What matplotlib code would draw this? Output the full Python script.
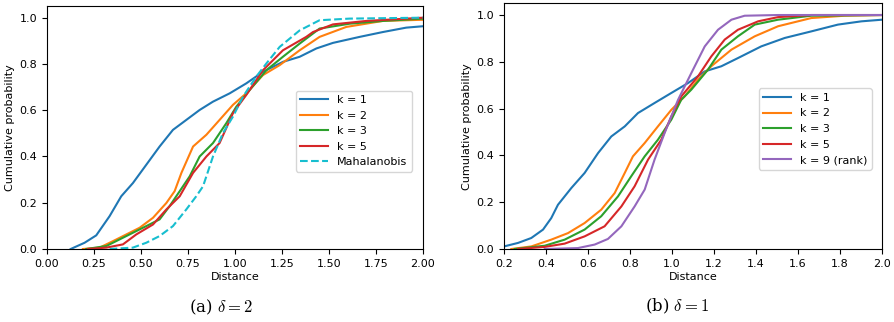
import numpy as np
import matplotlib
matplotlib.use("Agg")
import matplotlib.pyplot as plt

# values (distance, cumulative probability)
# panel (a): delta = 2
a_k1_x = [0.126, 0.20, 0.262, 0.333, 0.395, 0.457, 0.528, 0.599, 0.670, 0.741, 0.812, 0.883,
          0.972, 1.060, 1.149, 1.255, 1.344, 1.433, 1.521, 1.663, 1.787, 1.911, 2.0]
a_k1_y = [0.0, 0.027, 0.059, 0.142, 0.228, 0.285, 0.364, 0.443, 0.515, 0.558, 0.601, 0.637,
          0.673, 0.716, 0.766, 0.809, 0.831, 0.867, 0.891, 0.917, 0.938, 0.957, 0.963]
a_k2_x = [0.191, 0.28, 0.351, 0.422, 0.493, 0.564, 0.635, 0.679, 0.715, 0.777, 0.848, 0.918,
          0.989, 1.060, 1.149, 1.238, 1.344, 1.450, 1.592, 1.787, 2.0]
a_k2_y = [0.0, 0.006, 0.034, 0.063, 0.092, 0.135, 0.199, 0.250, 0.329, 0.443, 0.494, 0.558,
          0.623, 0.673, 0.752, 0.795, 0.859, 0.917, 0.960, 0.986, 0.991]
a_k3_x = [0.209, 0.316, 0.422, 0.528, 0.599, 0.652, 0.706, 0.759, 0.812, 0.883, 0.954, 1.007,
          1.078, 1.167, 1.255, 1.344, 1.450, 1.610, 1.787, 2.0]
a_k3_y = [0.0, 0.013, 0.056, 0.099, 0.128, 0.185, 0.250, 0.314, 0.400, 0.458, 0.544, 0.615,
          0.687, 0.773, 0.831, 0.888, 0.953, 0.974, 0.986, 0.996]
a_k5_x = [0.218, 0.316, 0.404, 0.475, 0.564, 0.635, 0.706, 0.777, 0.848, 0.918, 0.989, 1.060,
          1.149, 1.255, 1.379, 1.415, 1.521, 1.699, 2.0]
a_k5_y = [0.0, 0.006, 0.020, 0.063, 0.106, 0.171, 0.228, 0.329, 0.400, 0.458, 0.587, 0.666,
          0.773, 0.859, 0.917, 0.938, 0.971, 0.986, 1.0]
a_mah_x = [0.333, 0.457, 0.528, 0.599, 0.670, 0.741, 0.794, 0.830, 0.883, 0.936, 0.989, 1.043,
           1.113, 1.167, 1.238, 1.344, 1.450, 1.610, 2.0]
a_mah_y = [0.0, 0.006, 0.027, 0.056, 0.099, 0.171, 0.228, 0.271, 0.400, 0.501, 0.572, 0.659,
           0.745, 0.802, 0.874, 0.945, 0.989, 0.996, 1.0]

# panel (b): delta = 1
b_k1_x = [0.2, 0.267, 0.330, 0.386, 0.425, 0.457, 0.521, 0.584, 0.648, 0.711, 0.775, 0.838,
          0.917, 0.997, 1.076, 1.156, 1.235, 1.314, 1.425, 1.537, 1.663, 1.790, 1.902, 2.0]
b_k1_y = [0.011, 0.026, 0.047, 0.083, 0.132, 0.189, 0.261, 0.325, 0.410, 0.481, 0.524, 0.581,
          0.624, 0.667, 0.709, 0.759, 0.781, 0.816, 0.866, 0.902, 0.930, 0.959, 0.973, 0.980]
b_k2_x = [0.235, 0.330, 0.425, 0.505, 0.584, 0.663, 0.727, 0.775, 0.814, 0.870, 0.933, 0.997,
          1.060, 1.124, 1.187, 1.283, 1.394, 1.505, 1.663, 1.822, 2.0]
b_k2_y = [0.0, 0.011, 0.040, 0.068, 0.111, 0.168, 0.239, 0.325, 0.396, 0.453, 0.524, 0.595,
          0.652, 0.724, 0.781, 0.852, 0.909, 0.952, 0.987, 0.997, 1.0]
b_k3_x = [0.251, 0.394, 0.489, 0.584, 0.663, 0.743, 0.806, 0.870, 0.933, 0.997, 1.044, 1.092,
          1.171, 1.235, 1.314, 1.394, 1.505, 1.663, 2.0]
b_k3_y = [0.0, 0.014, 0.040, 0.083, 0.140, 0.225, 0.311, 0.396, 0.467, 0.553, 0.638, 0.681,
          0.766, 0.852, 0.909, 0.959, 0.980, 0.997, 1.0]
b_k5_x = [0.267, 0.394, 0.489, 0.584, 0.679, 0.759, 0.822, 0.886, 0.949, 0.997, 1.044, 1.124,
          1.187, 1.251, 1.314, 1.410, 1.505, 1.663, 2.0]
b_k5_y = [0.0, 0.009, 0.023, 0.054, 0.097, 0.182, 0.268, 0.382, 0.467, 0.567, 0.652, 0.738,
          0.823, 0.895, 0.937, 0.973, 0.991, 1.0, 1.0]
b_k9_x = [0.394, 0.552, 0.632, 0.695, 0.759, 0.822, 0.870, 0.917, 0.965, 1.029, 1.092, 1.156,
          1.219, 1.283, 1.346, 1.505, 2.0]
b_k9_y = [0.0, 0.004, 0.019, 0.043, 0.097, 0.182, 0.254, 0.382, 0.496, 0.638, 0.752, 0.866,
          0.937, 0.980, 0.997, 1.0, 1.0]

a_ticks = [0.0, 0.25, 0.5, 0.75, 1.0, 1.25, 1.5, 1.75, 2.0]
b_ticks = [0.2, 0.4, 0.6, 0.8, 1.0, 1.2, 1.4, 1.6, 1.8, 2.0]

plt.rcParams['font.size'] = 8
plt.rcParams['mathtext.fontset'] = 'cm'

fig = plt.figure(figsize=(8.95, 3.22), dpi=100)
ax1 = fig.add_axes([0.0525, 0.2267, 0.4201, 0.7543])
ax2 = fig.add_axes([0.5631, 0.2267, 0.4224, 0.7630])

lw = 1.5
ax1.plot(a_k1_x, a_k1_y, color='C0', lw=lw, label='k = 1')
ax1.plot(a_k2_x, a_k2_y, color='C1', lw=lw, label='k = 2')
ax1.plot(a_k3_x, a_k3_y, color='C2', lw=lw, label='k = 3')
ax1.plot(a_k5_x, a_k5_y, color='C3', lw=lw, label='k = 5')
ax1.plot(a_mah_x, a_mah_y, color='C9', lw=lw, ls='--', label='Mahalanobis')
ax1.set_xlim(0, 2)
ax1.set_xticks(a_ticks)
ax1.set_xticklabels(['%.2f' % t for t in a_ticks])
ax1.legend(loc='upper right', bbox_to_anchor=(0.985, 0.675), handlelength=2.5)

ax2.plot(b_k1_x, b_k1_y, color='C0', lw=lw, label='k = 1')
ax2.plot(b_k2_x, b_k2_y, color='C1', lw=lw, label='k = 2')
ax2.plot(b_k3_x, b_k3_y, color='C2', lw=lw, label='k = 3')
ax2.plot(b_k5_x, b_k5_y, color='C3', lw=lw, label='k = 5')
ax2.plot(b_k9_x, b_k9_y, color='C4', lw=lw, label='k = 9 (rank)')
ax2.set_xlim(0.2, 2)
ax2.set_xticks(b_ticks)
ax2.set_xticklabels(['%.1f' % t for t in b_ticks])
ax2.legend(loc='upper right', bbox_to_anchor=(0.987, 0.676), handlelength=2.5)

for ax in (ax1, ax2):
    ax.set_ylim(0, 1.05)
    ax.set_yticks([0.0, 0.2, 0.4, 0.6, 0.8, 1.0])
    ax.set_xlabel('Distance', labelpad=2)
    ax.set_ylabel('Cumulative probability', labelpad=3)

fig.text(0.247, 0.03, r'(a) $\delta = 2$', family='serif', fontsize=12, ha='center')
fig.text(0.757, 0.033, r'(b) $\delta = 1$', family='serif', fontsize=12, ha='center')

fig.savefig('out.png', dpi=100)
